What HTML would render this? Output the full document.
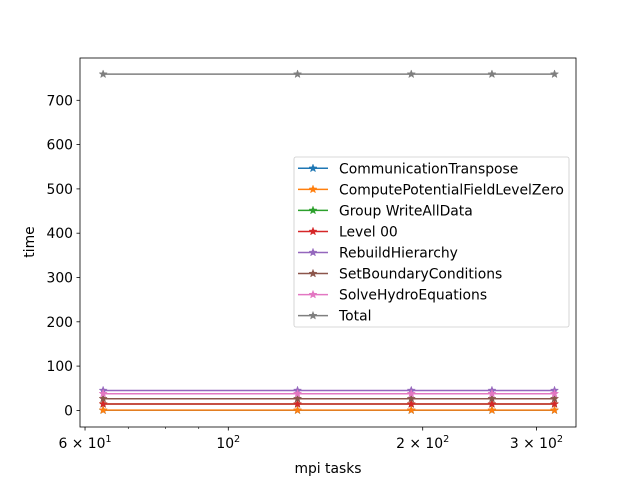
<!DOCTYPE html>
<html><head><meta charset="utf-8"><style>body{margin:0;background:#fff}svg{display:block;font-family:"DejaVu Sans","Liberation Sans",sans-serif}</style></head>
<body>
<svg id="chart" width="640" height="480" viewBox="0 0 640 480"></svg>
<script>
const xValues = [64, 128, 192, 256, 320];
const seriesNames = ["CommunicationTranspose","ComputePotentialFieldLevelZero","Group WriteAllData","Level 00","RebuildHierarchy","SetBoundaryConditions","SolveHydroEquations","Total"];
const seriesValues = [
  [0.3,0.3,0.3,0.3,0.3],
  [0.5,0.5,0.5,0.5,0.5],
  [14.4,14.4,14.4,14.4,14.4],
  [14.4,14.4,14.4,14.4,14.4],
  [45,45,45,45,45],
  [26.4,26.4,26.4,26.4,26.4],
  [37.7,37.7,37.7,37.7,37.7],
  [759,759,759,759,759]
];
const yTicks = [0,100,200,300,400,500,600,700];
const colors = ["#1f77b4","#ff7f0e","#2ca02c","#d62728","#9467bd","#8c564b","#e377c2","#7f7f7f"];
const NS="http://www.w3.org/2000/svg";
const svg=document.getElementById('chart');
const L=80,R=576,T=58,B=427;
const xs=v=>228.3+645.8*Math.log10(v/100);
const ys=v=>410.4-0.443*v;
function el(tag,attrs,parent){const e=document.createElementNS(NS,tag);for(const k in attrs)e.setAttribute(k,attrs[k]);(parent||svg).appendChild(e);return e;}
function star(cx,cy,r,c,parent){let p=[];for(let i=0;i<10;i++){const a=-Math.PI/2+i*Math.PI/5;const rr=i%2?r*0.42:r;p.push((cx+rr*Math.cos(a)).toFixed(2)+","+(cy+rr*Math.sin(a)).toFixed(2));}
 return el('polygon',{points:p.join(' '),fill:c,stroke:c,'stroke-width':0.5},parent);}
seriesValues.forEach((vals,i)=>{
  const g=el('g',{});
  
  
  el('polyline',{points:vals.map((v,j)=>xs(xValues[j])+","+ys(v)).join(' '),fill:'none',stroke:colors[i],'stroke-width':1.5},g);
  vals.forEach((v,j)=>{const s=star(xs(xValues[j]),ys(v),4.2,colors[i],g);
    
    });
});
const frame=el('rect',{x:L,y:T,width:R-L,height:B-T,fill:'none',stroke:'#000','stroke-width':0.8});


yTicks.forEach(t=>{const y=ys(t);el('line',{x1:L-3.5,x2:L,y1:y,y2:y,stroke:'#000','stroke-width':0.8});
  const tx=el('text',{x:L-7,y:y+5,'font-size':13.9,'text-anchor':'end'});tx.textContent=t;
  
  });
[[60,'6 \u00d7 10','1'],[100,'10','2'],[200,'2 \u00d7 10','2'],[300,'3 \u00d7 10','2']].forEach(([v,b,e])=>{
  const x=xs(v);el('line',{x1:x,x2:x,y1:B,y2:B+3.5,stroke:'#000','stroke-width':0.8});
  const tx=el('text',{x:x,y:B+21,'font-size':13.9,'text-anchor':'middle'});
  tx.innerHTML=b+'<tspan dy="-6" font-size="9.7">'+e+'</tspan>';
  
  });
[70,80,90].forEach(v=>{const x=xs(v);el('line',{x1:x,x2:x,y1:B,y2:B+2,stroke:'#000','stroke-width':0.6});});
const xl=el('text',{x:328,y:473,'font-size':13.9,'text-anchor':'middle'});xl.textContent='mpi tasks';


const yl=el('text',{x:0,y:0,'font-size':13.9,'text-anchor':'middle',transform:'translate(34,242) rotate(-90)'});yl.textContent='time';


const lg=el('g',{});


el('rect',{x:294,y:157,width:275,height:170,rx:2,fill:'#fff','fill-opacity':0.8,stroke:'#ccc','stroke-width':0.8},lg);
seriesNames.forEach((n,i)=>{const y=168.3+i*21.05;
  const e=el('g',{},lg);
  
  
  el('line',{x1:298,x2:328,y1:y,y2:y,stroke:colors[i],'stroke-width':1.5},e);
  star(313,y,4.2,colors[i],e);
  const t=el('text',{x:339,y:y+5,'font-size':13.9},e);t.textContent=n;});
</script>
</body></html>
